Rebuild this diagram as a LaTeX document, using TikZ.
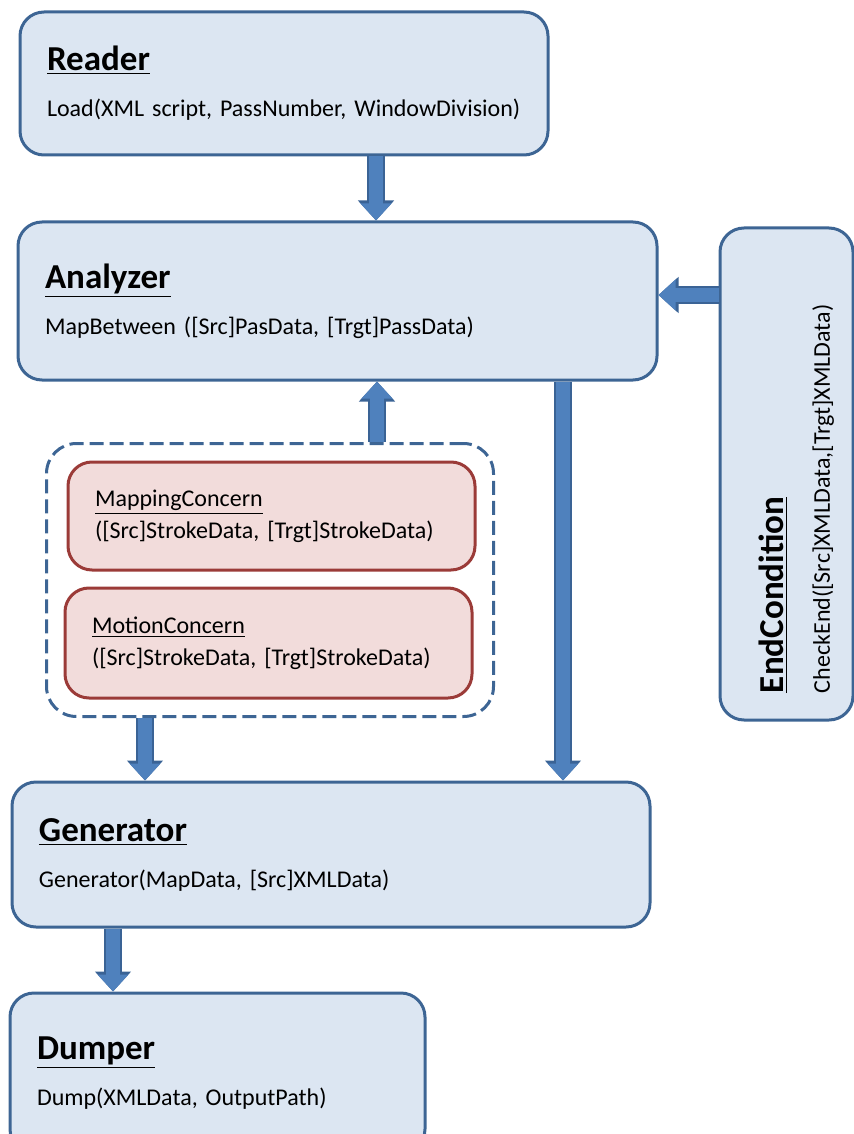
\documentclass[tikz,border=0pt]{standalone}
\usepackage{fontspec}
\setmainfont{Carlito}
\usetikzlibrary{arrows.meta}
\usetikzlibrary{positioning}
\usetikzlibrary{fit}

\definecolor{boxfill}{HTML}{DCE6F2}
\definecolor{boxline}{HTML}{3D6594}
\definecolor{pinkfill}{HTML}{F2DCDB}
\definecolor{pinkline}{HTML}{9B3B38}
\definecolor{arrowfill}{HTML}{4F81BD}
\definecolor{arrowline}{HTML}{3A6395}

\newcommand{\ttl}[1]{{\fontsize{17.5}{21}\selectfont\bfseries\underline{#1}}}

\begin{document}
\begin{tikzpicture}[x=0.5pt,y=-0.5pt,
  box/.style={draw=boxline, fill=boxfill, line width=1.5pt, rounded corners=12pt, align=left, inner xsep=13.5pt, font=\fontsize{12}{14}\selectfont},
  concern/.style={box, draw=pinkline, fill=pinkfill},
  group/.style={draw=boxline, line width=1.5pt, dash pattern=on 7pt off 3pt, rounded corners=15pt, inner xsep=8.5pt, inner ysep=8.5pt},
  blockarrow/.style={draw=arrowfill, line width=7pt, -{Triangle[width=15pt,length=8.5pt]},
    preaction={draw=arrowline, line width=9pt, -{Triangle[width=17.5pt,length=10pt]}}}]
\useasboundingbox (0,0) rectangle (854,1134);

\node[box, minimum height=71.5pt, text width=237pt] (reader) at (284,83.5) {\ttl{Reader}\\[9pt]Load(XML script, PassNumber, WindowDivision)};
\node[box, minimum height=79pt, text width=292.5pt] (analyzer) at (337.5,301) {\ttl{Analyzer}\\[9pt]MapBetween ([Src]PasData, [Trgt]PassData)};
\node[box, rotate=90, minimum height=66.5pt, minimum width=246pt] (endcond) at (786.5,474) {};
\node[rotate=90, align=left, text width=219pt, font=\fontsize{12}{14}\selectfont] (endtext) at ([xshift=5pt]endcond.center) {\ttl{EndCondition}\\[9pt]CheckEnd([Src]XMLData,[Trgt]XMLData)};

\node[concern, minimum height=54pt, text width=176.5pt] (mapping) at (271.5,516) {\underline{MappingConcern}\\[2pt]([Src]StrokeData, [Trgt]StrokeData)};
\node[concern, minimum height=55pt, text width=176.5pt] (motion) at (268.5,643) {\underline{MotionConcern}\\[2pt]([Src]StrokeData, [Trgt]StrokeData)};
\node[group, fit=(mapping)(motion)] (concerns) {};

\node[box, minimum height=72.5pt, text width=292pt] (generator) at (331,854.5) {\ttl{Generator}\\[9pt]Generator(MapData, [Src]XMLData)};
\node[box, minimum height=80pt, text width=180.5pt] (dumper) at (217.5,1073) {\ttl{Dumper}\\[9pt]Dump(XMLData, OutputPath)};

% arrow columns
\coordinate (colA) at (376,0);
\coordinate (colB) at (377,0);
\coordinate (colC) at (563,0);
\coordinate (colD) at (145,0);
\coordinate (colE) at (113,0);
\coordinate (rowA) at (0,295);

\draw[blockarrow] (reader.south -| colA) -- (analyzer.north -| colA);
\draw[blockarrow] (endcond.north |- rowA) -- (analyzer.east |- rowA);
\draw[blockarrow] (concerns.north -| colB) -- (analyzer.south -| colB);
\draw[blockarrow] (analyzer.south -| colC) -- (generator.north -| colC);
\draw[blockarrow] (concerns.south -| colD) -- (generator.north -| colD);
\draw[blockarrow] (generator.south -| colE) -- (dumper.north -| colE);
\end{tikzpicture}
\end{document}
